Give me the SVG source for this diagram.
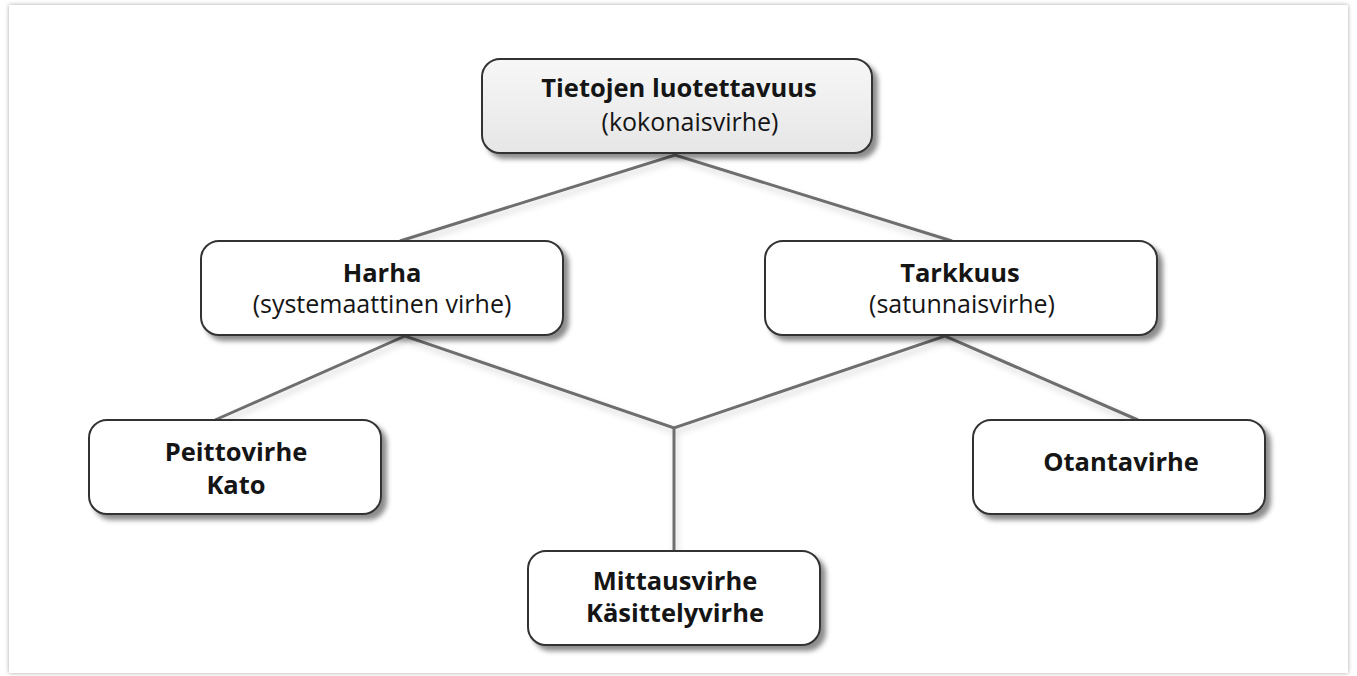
<svg xmlns="http://www.w3.org/2000/svg" width="1357" height="676" viewBox="0 0 1357 676">
  <defs>
    <filter id="pageShadow" x="-2%" y="-2%" width="104%" height="104%">
      <feDropShadow dx="0" dy="0" stdDeviation="2" flood-color="#000" flood-opacity="0.35"/>
    </filter>
    <filter id="boxShadow" x="-5%" y="-10%" width="115%" height="130%">
      <feDropShadow dx="5" dy="5" stdDeviation="2.5" flood-color="#000" flood-opacity="0.45"/>
    </filter>
    <filter id="lineShadow" x="-5%" y="-10%" width="110%" height="130%">
      <feDropShadow dx="2" dy="4" stdDeviation="3" flood-color="#000" flood-opacity="0.18"/>
    </filter>
    <linearGradient id="topFill" x1="0" y1="0" x2="0" y2="1">
      <stop offset="0" stop-color="#f7f7f7"/>
      <stop offset="1" stop-color="#e6e6e6"/>
    </linearGradient>
  </defs>
  <style>
    .box { fill: #ffffff; stroke: #333333; stroke-width: 2; filter: url(#boxShadow); }
    .top { fill: url(#topFill); }
    .conn { fill: none; stroke: #6e6e6e; stroke-width: 3; stroke-linejoin: miter; }
    .t { font-family: "Open Sans", "Noto Sans", "Liberation Sans", sans-serif; fill: #151515; text-anchor: middle; }
    .b { font-weight: bold; font-size: 25.5px; }
    .r { font-weight: normal; font-size: 25px; }
  </style>
  <rect x="9" y="5" width="1339" height="668" fill="#ffffff" filter="url(#pageShadow)"/>

  <g id="connectors" filter="url(#lineShadow)">
    <polyline class="conn" points="400,241 675,155 952,241"/>
    <polyline class="conn" points="215,420 405,336 674,428 945,336 1138,420"/>
    <line class="conn" x1="674" y1="428" x2="674" y2="551"/>
  </g>

  <g id="node-tietojen">
    <rect class="box top" x="482" y="59" width="390" height="94" rx="18"/>
    <text class="t b" x="679" y="97">Tietojen luotettavuus</text>
    <text class="t r" x="690" y="131">(kokonaisvirhe)</text>
  </g>

  <g id="node-harha">
    <rect class="box" x="201" y="241" width="362" height="94" rx="18"/>
    <text class="t b" x="382" y="282">Harha</text>
    <text class="t r" x="382" y="313">(systemaattinen virhe)</text>
  </g>

  <g id="node-tarkkuus">
    <rect class="box" x="765" y="241" width="392" height="94" rx="18"/>
    <text class="t b" x="960" y="282">Tarkkuus</text>
    <text class="t r" x="962" y="313">(satunnaisvirhe)</text>
  </g>

  <g id="node-peittovirhe">
    <rect class="box" x="89" y="420" width="292" height="94" rx="18"/>
    <text class="t b" x="236" y="461">Peittovirhe</text>
    <text class="t b" x="236" y="494">Kato</text>
  </g>

  <g id="node-otantavirhe">
    <rect class="box" x="973" y="420" width="292" height="94" rx="18"/>
    <text class="t b" x="1121" y="471">Otantavirhe</text>
  </g>

  <g id="node-mittausvirhe">
    <rect class="box" x="528" y="551" width="292" height="94" rx="18"/>
    <text class="t b" x="675" y="590">Mittausvirhe</text>
    <text class="t b" x="675" y="622">Käsittelyvirhe</text>
  </g>
</svg>
